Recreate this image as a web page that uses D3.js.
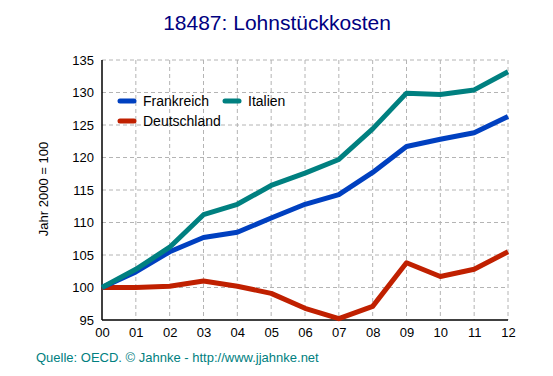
<!DOCTYPE html>
<html><head><meta charset="utf-8">
<script src="https://cdn.jsdelivr.net/npm/d3@7"></script>
<style>body{margin:0;background:#fff;}svg{display:block;font-family:"Liberation Sans",Arial,sans-serif;}</style>
</head><body><svg id="c" width="553" height="376"></svg>
<script>
const years = ["00","01","02","03","04","05","06","07","08","09","10","11","12"];
const frankreich = [100,102.4,105.5,107.7,108.5,110.7,112.8,114.3,117.7,121.7,122.8,123.8,126.3];
const italien = [100,102.8,106.2,111.2,112.8,115.7,117.6,119.7,124.4,129.9,129.7,130.4,133.2];
const deutschland = [100,100.0,100.2,101.0,100.2,99.1,96.8,95.2,97.1,103.8,101.7,102.8,105.5];
const yTicks = [95,100,105,110,115,120,125,130,135];
const seriesNames = ["Frankreich","Italien","Deutschland"];
const colors = ["#0040c0","#008080","#c02000"];

const svg = d3.select("#c");
const L=102, R=508, T=60, B=320;
const x = d3.scalePoint().domain(years).range([L,R]);
const y = d3.scaleLinear().domain([95,135]).range([B,T]);

svg.append("text").attr("x",277).attr("y",30).attr("text-anchor","middle")
  .attr("font-size",21).attr("fill","#000080").text("18487: Lohnstückkosten");

const g = svg.append("g");
g.selectAll(".hg").data(yTicks.filter(d=>d>95)).join("line")
  .attr("x1",L).attr("x2",R).attr("y1",d=>y(d)).attr("y2",d=>y(d))
  .attr("stroke","#b4b4b4").attr("stroke-dasharray","4,3");
g.selectAll(".vg").data(years.slice(1)).join("line")
  .attr("x1",d=>x(d)).attr("x2",d=>x(d)).attr("y1",T).attr("y2",B)
  .attr("stroke","#b4b4b4").attr("stroke-dasharray","4,3");

const ya = d3.axisLeft(y).tickValues(yTicks).tickSize(0).tickPadding(8);
const yg = svg.append("g").attr("transform",`translate(${L},0)`).call(ya);
yg.select(".domain").remove();
yg.selectAll("text").attr("font-size",13).attr("fill","#000").attr("font-family","Liberation Sans, Arial, sans-serif");
const xa = d3.axisBottom(x).tickSize(0).tickPadding(8);
const xg = svg.append("g").attr("transform",`translate(0,${B})`).call(xa);
xg.select(".domain").remove();
xg.selectAll("text").attr("font-size",13).attr("fill","#000").attr("font-family","Liberation Sans, Arial, sans-serif");

svg.append("line").attr("x1",L).attr("x2",L).attr("y1",T).attr("y2",B).attr("stroke","#000").attr("stroke-width",1.5);
svg.append("line").attr("x1",L).attr("x2",R).attr("y1",B).attr("y2",B).attr("stroke","#000").attr("stroke-width",1.5);

svg.append("text").attr("transform","translate(48,189) rotate(-90)").attr("text-anchor","middle")
  .attr("font-size",13).attr("fill","#000").text("Jahr 2000 = 100");

const line = d3.line().x((d,i)=>x(years[i])).y(d=>y(d));
const data = [deutschland, frankreich, italien];
const dcol = [colors[2], colors[0], colors[1]];
data.forEach((s,i)=>{
  svg.append("path").datum(s).attr("d",line).attr("fill","none")
    .attr("stroke",dcol[i]).attr("stroke-width",5).attr("stroke-linejoin","round");
});

const leg = [{n:seriesNames[0],c:colors[0],x:120,y:101},{n:seriesNames[1],c:colors[1],x:225,y:101},{n:seriesNames[2],c:colors[2],x:120,y:121}];
leg.forEach(d=>{
  svg.append("line").attr("x1",d.x).attr("x2",d.x+14).attr("y1",d.y).attr("y2",d.y)
    .attr("stroke",d.c).attr("stroke-width",5).attr("stroke-linecap","round");
  svg.append("text").attr("x",d.x+23).attr("y",d.y+5).attr("font-size",14).attr("fill","#000").text(d.n);
});

svg.append("text").attr("x",36).attr("y",362).attr("font-size",13).attr("fill","#008080")
  .text("Quelle: OECD. © Jahnke - http://www.jjahnke.net");
</script></body></html>
